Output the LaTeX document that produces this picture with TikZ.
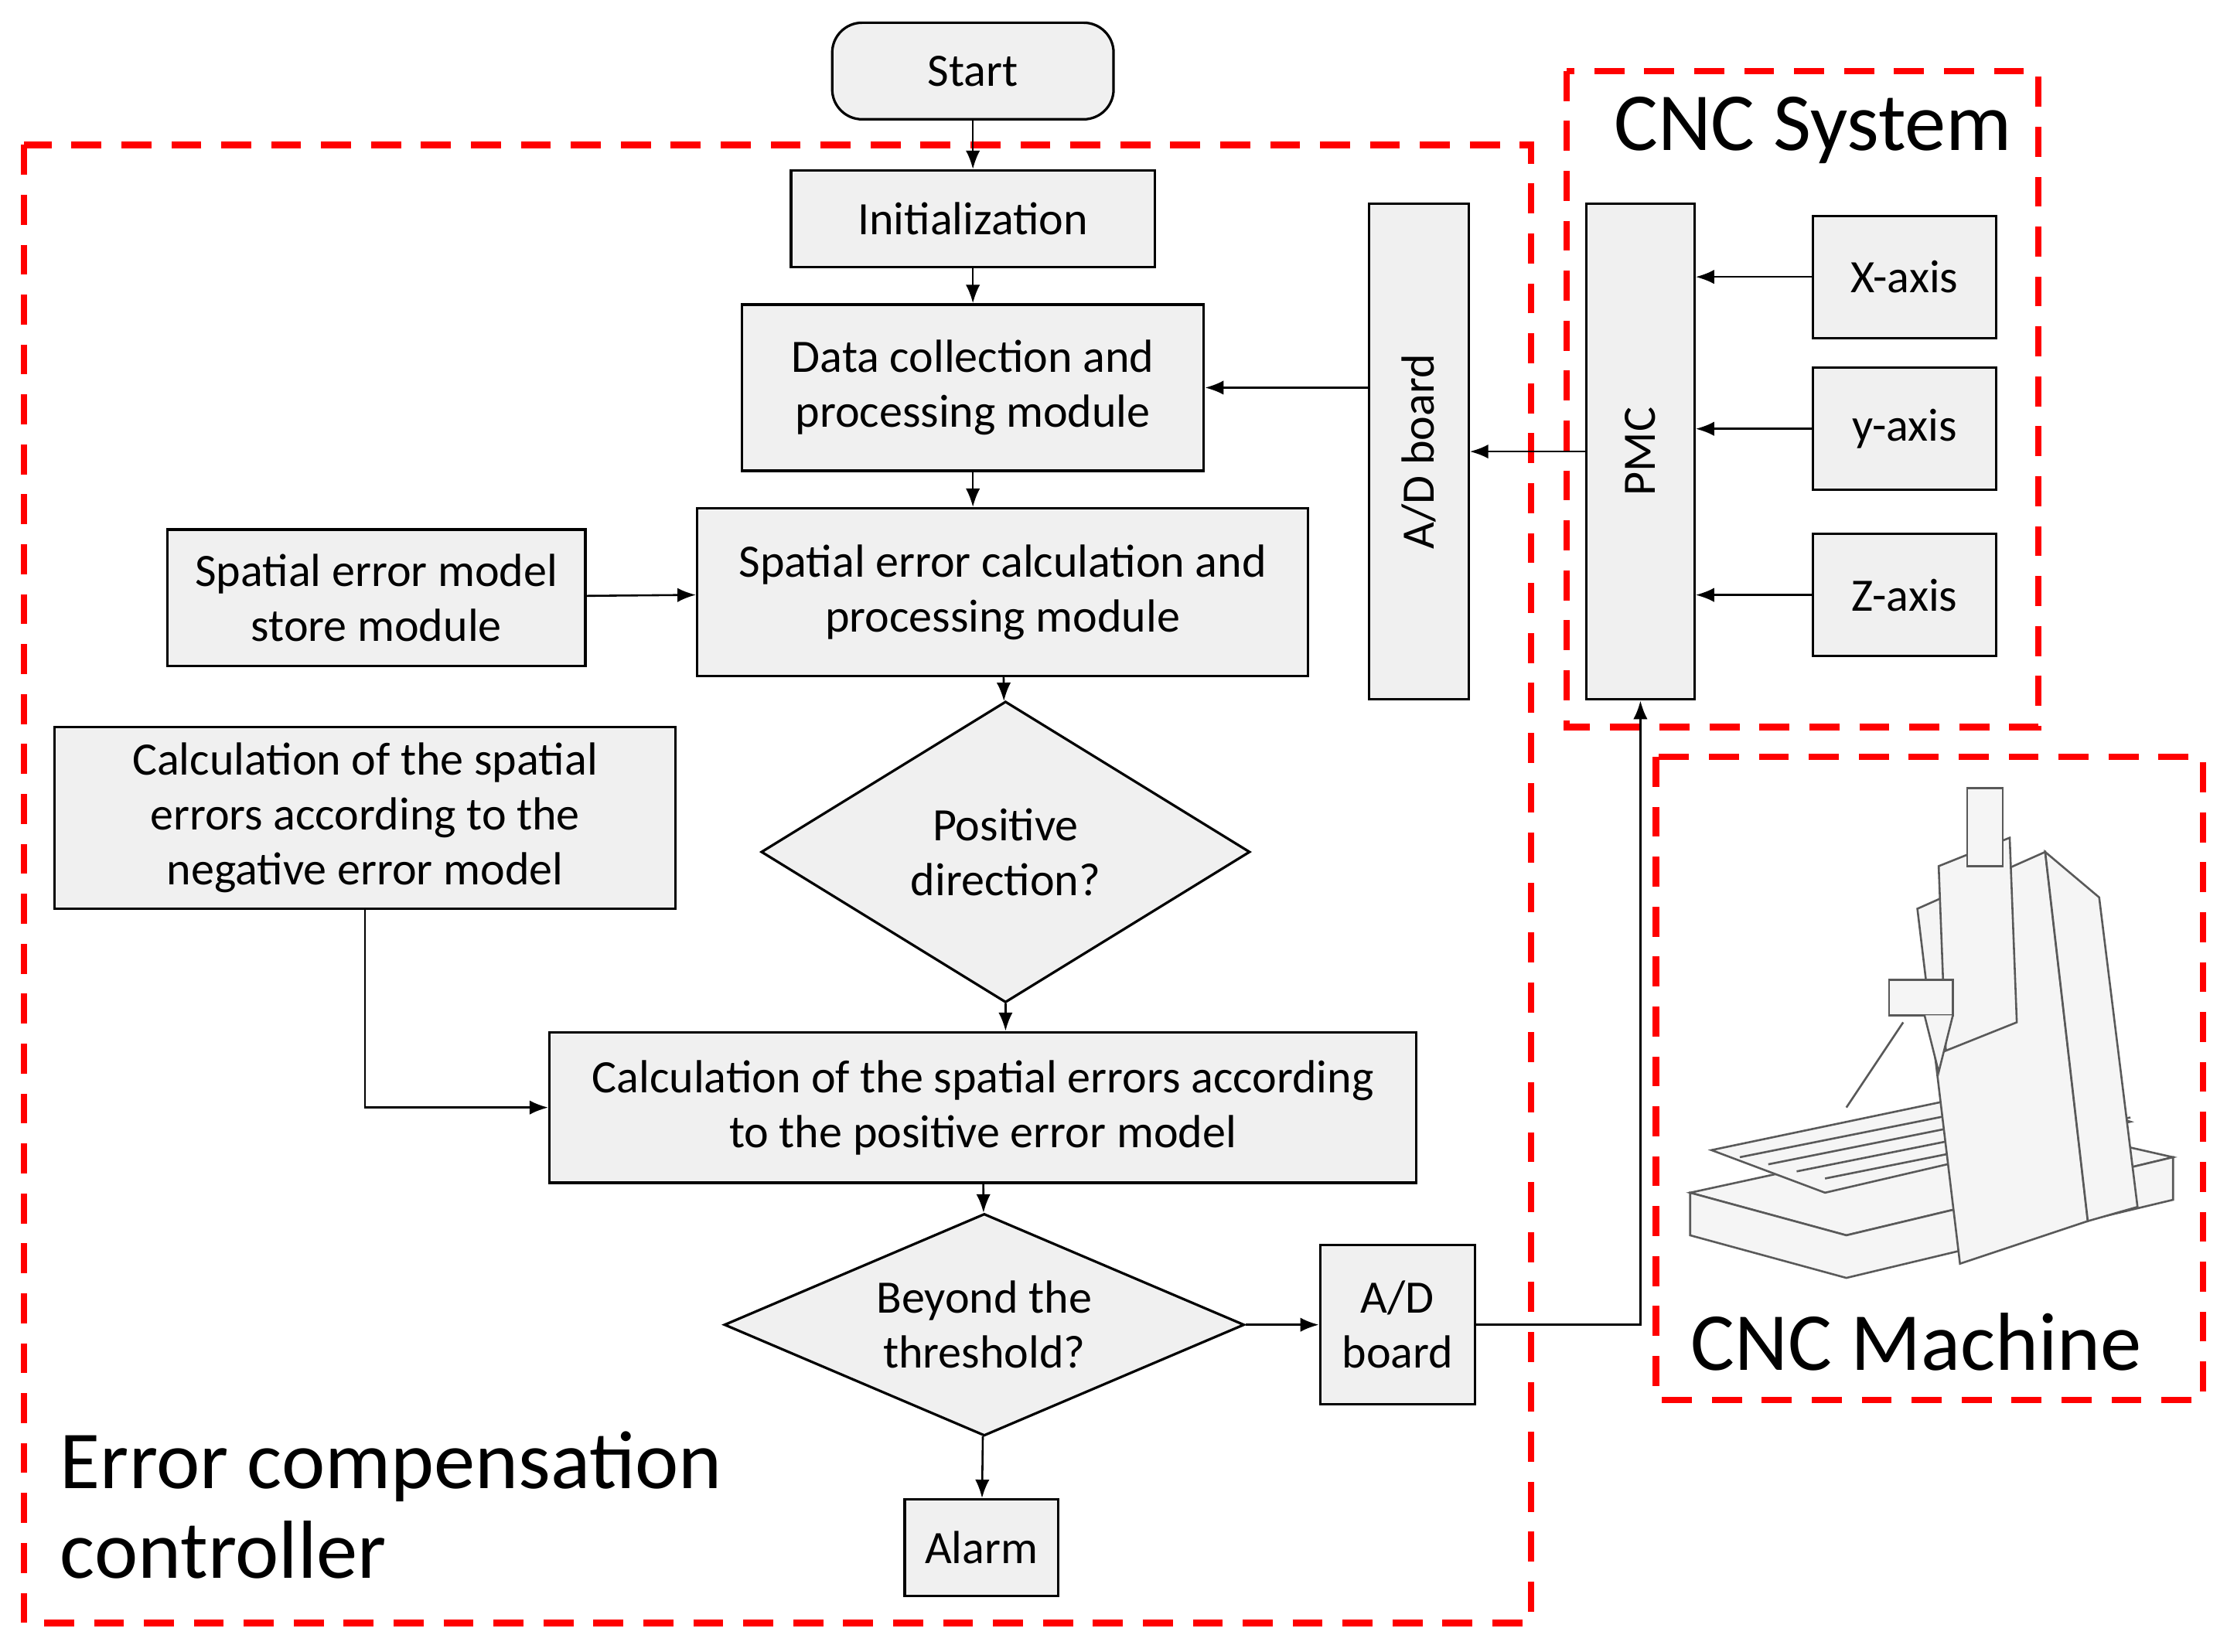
\documentclass[tikz,border=0pt]{standalone}
\usepackage{fontspec}
\setmainfont{Carlito}
\usetikzlibrary{positioning,shapes.geometric,arrows.meta}

\begin{document}
\begin{tikzpicture}[x=0.01cm, y=-0.01cm,
  font=\fontsize{9.3}{11}\selectfont,
  box/.style={draw, fill=gray!12, align=center, inner sep=0pt, line width=0.5pt},
  dec/.style={draw, fill=gray!12, diamond, align=center, inner sep=0pt, aspect=1.6, line width=0.5pt},
  arr/.style={-{Latex[length=1.3mm, width=1mm]}, line width=0.4pt},
  zone/.style={draw=red, dashed, line width=1.3pt, dash pattern=on 6pt off 4pt},
  big/.style={font=\fontsize{16.5}{19}\selectfont, align=left, anchor=west},
  mach/.style={draw=gray!70!black, fill=gray!8, line width=0.4pt}]
\useasboundingbox (0,0) rectangle (1568,1163);

% zones
\draw[zone] (17,102) rectangle (1078,1143);
\draw[zone] (1103,50) rectangle (1435,512);
\draw[zone] (1166,533) rectangle (1551,986);
\node[big] at (1124,92) {CNC System};
\node[big] at (1178,945) {CNC Machine};
\node[big] at (30,1060) {Error compensation\\[-1pt]controller};

% flow
\node[box, rounded corners=6pt, minimum width=1.98cm, minimum height=0.68cm] (start) at (685,50) {Start};
\node[box, minimum width=2.56cm, minimum height=0.68cm] (init) at (685,154) {Initialization};
\node[box, minimum width=3.25cm, minimum height=1.17cm] (data) at (685,273) {Data collection and\\processing module};
\node[box, minimum width=4.30cm, minimum height=1.18cm] (calc) at (706,417) {Spatial error calculation and\\processing module};
\node[box, minimum width=2.94cm, minimum height=0.96cm] (store) at (265,421) {Spatial error model\\store module};
\node[box, minimum width=4.37cm, minimum height=1.28cm] (neg) at (257,576) {Calculation of the spatial\\errors according to the\\negative error model};
\node[dec, minimum width=3.44cm, minimum height=2.12cm] (pos) at (708,600) {Positive\\direction?};
\node[box, minimum width=6.10cm, minimum height=1.06cm] (poscalc) at (692,780) {Calculation of the spatial errors according\\to the positive error model};
\node[dec, minimum width=3.66cm, minimum height=1.54cm] (thr) at (693,933) {Beyond the\\threshold?};
\node[box, minimum width=1.08cm, minimum height=0.68cm] (alarm) at (691,1090) {Alarm};
\node[box, minimum width=1.09cm, minimum height=1.12cm] (adb) at (984,933) {A/D\\board};
\node[box, minimum width=0.70cm, minimum height=3.49cm] (adt) at (999,318) {\rotatebox{90}{A/D board}};
\node[box, minimum width=0.76cm, minimum height=3.49cm] (pmc) at (1155,318) {\rotatebox{90}{PMC}};
\node[box, minimum width=1.29cm, minimum height=0.86cm] (xax) at (1341,195) {X-axis};
\node[box, minimum width=1.29cm, minimum height=0.86cm] (yax) at (1341,302) {y-axis};
\node[box, minimum width=1.29cm, minimum height=0.86cm] (zax) at (1341,419) {Z-axis};

\draw[arr] (start) -- (init);
\draw[arr] (init) -- (data);
\draw[arr] (data) -- (data |- calc.north);
\draw[arr] (store) -- (calc);
\draw[arr] (calc) -- (pos);
\draw[arr] (pos) -- (pos |- poscalc.north);
\draw[arr] (neg) |- (poscalc);
\draw[arr] (poscalc) -- (thr);
\draw[arr] (thr) -- (alarm);
\draw[arr] (thr) -- (adb);
\draw[arr] (adb) -| (pmc);
\draw[arr] (adt.west |- data) -- (data);
\draw[arr] (pmc) -- (adt);
\draw[arr] (xax) -- (pmc.east |- xax);
\draw[arr] (yax) -- (pmc.east |- yax);
\draw[arr] (zax) -- (pmc.east |- zax);

% machine sketch
\draw[mach] (1190,840) -- (1420,790) -- (1530,815) -- (1300,870) -- cycle;
\draw[mach] (1190,840) -- (1190,870) -- (1300,900) -- (1530,845) -- (1530,815) -- (1300,870) -- cycle;
\draw[mach] (1205,810) -- (1420,765) -- (1500,790) -- (1285,840) -- cycle;
\foreach \i in {0,1,2,3} \draw[gray!70!black] (1225+20*\i,815+5*\i) -- (1440+20*\i,772+5*\i);
\draw[mach] (1350,640) -- (1440,600) -- (1470,860) -- (1380,890) -- cycle;
\draw[mach] (1440,600) -- (1478,632) -- (1505,850) -- (1470,860) -- cycle;
\draw[mach] (1365,610) -- (1415,590) -- (1420,720) -- (1370,740) -- cycle;
\draw[mach] (1385,555) rectangle (1410,610);
\draw[mach] (1330,690) rectangle (1375,715);
\draw[mach] (1355,715) -- (1365,755) -- (1375,715);
\draw[gray!70!black] (1300,780) -- (1340,720);
\end{tikzpicture}
\end{document}
